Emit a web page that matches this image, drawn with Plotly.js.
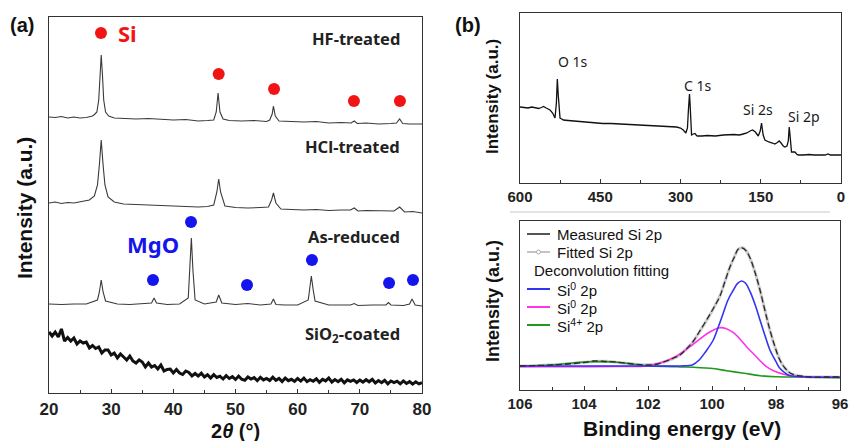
<!DOCTYPE html>
<html>
<head>
<meta charset="utf-8">
<script src="https://cdn.plot.ly/plotly-3.0.1.min.js"></script>
<style>html,body{margin:0;padding:0;background:#fff;}#chart{width:849px;height:441px;}</style>
</head>
<body>
<div id="chart"></div>
<script>
// ---------- Panel (a): XRD patterns (offset intensities, a.u.) ----------
const hfX = [20,21,22,23,24,25,26,26.5,27,27.4,27.7,28.0,28.2,28.4,28.6,28.8,29.1,29.6,30.5,32,34,36,38,40,42,44,45.5,46.5,46.9,47.2,47.5,48.0,49,51,53,55,55.5,55.9,56.1,56.4,57,59,61,63,65,67,68.6,69.1,69.6,71,73,75,75.9,76.4,76.9,78,80];
const hfY = [276,275.5,276.5,275,276,275,275.5,276,277,279,281,293,318,338,318,293,281,277,275,274.5,274,274.5,273.5,273,273.5,272,272.5,273,281,300,281,274,272.5,272,272.5,271.5,273,279,287,277,272,271.5,271,271.5,270,270.5,270,272,269.5,270,269,269.5,270,274,269.5,269,269];

const hclX = [20,21,22,23,24,25,26,26.5,27.3,27.8,28.1,28.4,28.7,29.0,29.5,30.5,32,34,36,38,40,42,44,45.5,46.5,47.0,47.3,47.6,48.3,50,52,54,55.3,55.8,56.1,56.5,57.3,59,61,63,65,67,68.5,69.1,69.7,71,73,75.5,76.4,77.2,78.5,80];
const hclY = [190,191,189.5,190.5,190,191,192,193,197,208,228,253,228,208,196,191,189,188.5,188,187.5,187,186.5,186,186.5,188,201,214,201,187,185.5,185,185.5,186,193,200,190,184,183.5,183,183.5,182.5,183,183,185,182,182.5,182,182,186,181,181.5,180];

const arX = [20,22,24,26,27.8,28.1,28.4,28.7,29.1,31,33,35,36.5,36.9,37.3,39,41,42.4,42.65,42.9,43.15,43.5,45,46.9,47.3,47.8,50,52,54,55.7,56.1,56.5,58,60,61.7,61.95,62.2,62.5,62.8,65,68.5,69.1,69.7,72,74.2,74.6,75.0,77,78.0,78.4,78.9,80];
const arY = [89,88.5,89,89,93,101,113,101,92,89,88.5,89,90,95,90,88.5,89,95,123,155,123,93,89,91,98,90,88.5,89.5,88,89,94,88.5,88,88,93,103,117,103,92,88,88,89.5,87.5,88,88,90.5,88,87.5,89,94,88,87];

const sioX = [20,20.5,21,21.5,22,22.5,23,23.5,24,24.5,25,25.5,26,26.5,27,27.5,28,28.5,29,29.5,30,30.5,31,31.5,32,32.5,33,33.5,34,34.5,35,35.5,36,36.5,37,37.5,38,38.5,39,39.5,40,40.5,41,41.5,42,42.5,43,43.5,44,44.5,45,45.5,46,46.5,47,47.5,48,48.5,49,49.5,50,50.5,51,51.5,52,52.5,53,53.5,54,54.5,55,55.5,56,56.5,57,57.5,58,58.5,59,59.5,60,60.5,61,61.5,62,62.5,63,63.5,64,64.5,65,65.5,66,66.5,67,67.5,68,68.5,69,69.5,70,70.5,71,71.5,72,72.5,73,73.5,74,74.5,75,75.5,76,76.5,77,77.5,78,78.5,79,79.5,80];
const sioY = [61,57,61,56,64,52,55.5,52,55,49,52,50,51,45,47.5,44.5,46,40,43,43,38,40,35,39,36,33,37,32,30,33,31,26,30,26,27.5,24,28,22,23.5,24,20,23.5,20,18.5,22,20.5,17,19.5,17,19.8,16,18.3,15,18.3,15.5,16.8,14,17.3,14.5,16.3,13.5,16.9,13.8,12.7,16.1,14,15.4,12.3,15.7,13.1,14.5,12.4,15.8,12.7,14.6,11.5,14.9,12.3,13.7,11.6,14.5,11.95,14.9,11.35,13.3,11.75,14.2,10.65,13.6,12.05,15,10.95,13.4,11.35,13.8,10.25,13.2,11.65,13.1,10.55,13,10.9,13.3,11.2,13.6,10,12.4,10.3,12.7,9.1,12,10.4,11.8,9.2,12.1,9.5,11.4,8.8,11.2,9.1,10.5];

const siDotX = [28.36,47.3,56.2,69.05,76.45];
const siDotY = [360,319,304,292,292];
const mgoDotX = [42.84,36.73,51.85,62.3,74.7,78.55];
const mgoDotY = [171,113,108,133,110,113];

const xrdTicks = [20,30,40,50,60,70,80];
const sampleNames = ["HF-treated","HCl-treated","As-reduced","SiO<sub>2</sub>-coated"];
const sampleLabelY = [355,247,157,59];

// ---------- Panel (b) top: XPS survey ----------
const surX = [600,592,585,578,570,565,560,556,551,548,543.9,539,536,534.6,532,530.2,528.5,527,525.2,522,518.9,510,500,480,463,445,430,415,400,385,370,355,338.5,320,307.4,300,294.9,290,287,285.3,284,283.2,282,281,279.3,276,273.1,270,268.7,260,250,235,220,200,190,182.7,176,170,165.3,160,156,154.7,151,149.5,148.5,147.3,145.5,142.2,135,128,123.6,119,115.5,112,108,104.9,101,98.5,96.8,95.3,93.5,92.5,89,86.2,83,80,70,60,50,40,30,24,20,10,0];
const surY = [76,75.5,75,76,75,74.5,75.5,76.5,75,74,73,70,67,65,80,104,88,70,65,64,63,62.5,62,61,60,59.5,59.5,59,58.5,58.5,58,57.5,57,56.5,56,55,53,50,55,72,86,89,78,58,48,49,49.5,47.5,47,47,47.5,47,48,48.5,48,49,50,52,53,51,48,47,52,58,60,55,48,43,41,40,39,40.5,42,40,37,36,37,42,56,48,35,31,31,31,29,28,28,28.5,28,28,28,29,28,28,28];
const surTicks = [600,450,300,150,0];
const surPeakNames = ["O 1s","C 1s","Si 2s","Si 2p"];
const surPeakX = [500.9,269,155,70];
const surPeakY = [121,97,73,66];

// ---------- Panel (b) bottom: Si 2p high resolution ----------
const measX = [106,105.5,105,104.5,104,103.7,103.3,103,102.5,102.04,101.7,101.42,101.2,101.0,100.8,100.58,100.4,100.17,99.95,99.75,99.6,99.44,99.3,99.18,99.05,98.93,98.81,98.65,98.5,98.35,98.19,98.03,97.88,97.72,97.56,97.4,97.2,96.94,96.5,96.0];
const measY = [24,24.5,25,26,27.5,29,28.5,28,26,25,26,29,32,35,41,49,58,70,82,94,108,123,133,141,142,139,132,117,100,80,60,43,30,22,17,15,14,13,13,13];
const fitY  = [24,24.3,25.2,26.2,27.7,28.6,28.7,27.8,26.3,25.2,26.4,28.8,31.5,35.2,41.2,48.7,57.8,69.6,81.8,94.3,108.2,122.8,133.2,140.7,142.3,139.3,131.6,117.2,99.6,80.4,59.6,42.8,30.2,21.8,16.8,14.8,13.8,13.1,12.9,12.8];

const blueX = [106,104,102,101.0,100.6,100.4,100.2,99.96,99.8,99.65,99.5,99.33,99.2,99.07,98.95,98.81,98.65,98.5,98.35,98.19,98.0,97.88,97.7,97.56,97.2,96];
const blueY = [24,24,24,24,25.3,30,38.3,50,63.3,76.7,90,100,106.7,109,106.7,98.3,85,70,55,40,28.3,21.7,16.7,14.3,13.3,12.7];
const pinkX = [106,105,104,103,102.04,101.6,101.1,100.58,100.17,99.95,99.75,99.55,99.33,99.1,98.92,98.7,98.5,98.3,98.08,97.67,97.25,96];
const pinkY = [23.3,23.3,23.3,23.5,24,27.3,34,46,56,60,62.3,61.3,57.3,50,43.3,36,29.3,23.3,19.3,15,13.3,12.7];
const greenX = [106,105,104.3,103.7,103.1,102.67,102.04,101.1,100.06,99.54,99.0,98.5,98.0,97,96];
const greenY = [24,25,27.3,28.3,28,26.7,24.3,23.3,21.7,19.3,16.7,14.3,13.3,12.8,12.3];
const hrTicks = [106,104,102,100,98,96];

const legendNames = ["Measured Si 2p","Fitted Si 2p","Deconvolution fitting","Si<sup>0</sup> 2p","Si<sup>0</sup> 2p","Si<sup>4+</sup> 2p"];

// ---------- styling ----------
const W = 849, H = 441;
const px = v => v / W, py = v => 1 - v / H;
const RED = "#f01414", BLUE = "#1414ec";
const C_BLUE = "#3434f4", C_PINK = "#ff33ea", C_GREEN = "#1f9a1f";
const tickFont = s => ({family: "Liberation Sans, Arial, sans-serif", size: s, color: "#222", weight: "bold"});

const traces = [
  {x: hfX, y: hfY, xaxis: "x", yaxis: "y", mode: "lines", line: {color: "#3a3a3a", width: 1.1}},
  {x: hclX, y: hclY, xaxis: "x", yaxis: "y", mode: "lines", line: {color: "#3a3a3a", width: 1.1}},
  {x: arX, y: arY, xaxis: "x", yaxis: "y", mode: "lines", line: {color: "#3a3a3a", width: 1.1}},
  {x: sioX, y: sioY, xaxis: "x", yaxis: "y", mode: "lines", line: {color: "#111", width: 3}},
  {x: siDotX, y: siDotY, xaxis: "x", yaxis: "y", mode: "markers", marker: {color: RED, size: 12}},
  {x: mgoDotX, y: mgoDotY, xaxis: "x", yaxis: "y", mode: "markers", marker: {color: BLUE, size: 12}},
  {x: surX, y: surY, xaxis: "x2", yaxis: "y2", mode: "lines", line: {color: "#111", width: 1.3}},
  {x: measX, y: fitY, xaxis: "x3", yaxis: "y3", mode: "lines", line: {color: "#cdcdcd", width: 3, shape: "spline"}},
  {x: greenX, y: greenY, xaxis: "x3", yaxis: "y3", mode: "lines", line: {color: C_GREEN, width: 1.6, shape: "spline"}},
  {x: pinkX, y: pinkY, xaxis: "x3", yaxis: "y3", mode: "lines", line: {color: C_PINK, width: 1.6, shape: "spline"}},
  {x: blueX, y: blueY, xaxis: "x3", yaxis: "y3", mode: "lines", line: {color: C_BLUE, width: 1.6, shape: "spline"}},
  {x: measX, y: measY, xaxis: "x3", yaxis: "y3", mode: "lines", line: {color: "#2a2a2a", width: 1.3, dash: "6px,3px", shape: "spline"}}
];
traces.forEach(t => { t.showlegend = false; t.hoverinfo = "skip"; });

const axBase = {showline: true, mirror: true, linecolor: "#333", linewidth: 1.3, showgrid: false, zeroline: false, fixedrange: true, automargin: false};
const ann = [];
const A = (o) => { ann.push(Object.assign({showarrow: false, xanchor: "center", yanchor: "middle", xref: "paper", yref: "paper"}, o)); };
const bold = (s) => ({family: "Liberation Sans, Arial, sans-serif", size: s, weight: "bold", color: "#111"});
// panel letters
A({text: "(a)", x: px(22), y: py(25), font: bold(20)});
A({text: "(b)", x: px(468), y: py(25), font: bold(20)});
// axis titles
A({text: "Intensity (a.u.)", x: px(24), y: py(208), textangle: -90, font: bold(21)});
A({text: "2<i>θ</i> (°)", x: px(236), y: py(431), font: bold(20)});
A({text: "Intensity (a.u.)", x: px(493), y: py(97), textangle: -90, font: bold(17)});
A({text: "Intensity (a.u.)", x: px(493), y: py(301), textangle: -90, font: bold(18)});
A({text: "Binding energy (eV)", x: px(682), y: py(428), font: bold(21)});
// sample names
sampleNames.forEach((s, i) => A({text: s, x: 76.8, y: sampleLabelY[i], xref: "x", yref: "y", xanchor: "right", font: {family: "Noto Sans, sans-serif", size: 16.5, weight: "bold", color: "#222"}}));
A({text: "Si", x: 30.8, y: 360, xref: "x", yref: "y", xanchor: "left", font: {family: "Noto Sans, sans-serif", size: 22, weight: "bold", color: RED}});
A({text: "MgO", x: 36.7, y: 149, xref: "x", yref: "y", font: {family: "Noto Sans, sans-serif", size: 22, weight: "bold", color: BLUE}});
// survey peak names
surPeakNames.forEach((s, i) => A({text: s, x: surPeakX[i], y: surPeakY[i], xref: "x2", yref: "y2", font: {family: "Noto Sans, sans-serif", size: 14, color: "#1a1a1a"}}));
// manual legend in panel (b) bottom
const legRowsY = [234, 252, 270, 289, 307, 325];
const legColors = ["#555", "#c4c4c4", null, C_BLUE, C_PINK, C_GREEN];
const shapes = [];
legendNames.forEach((s, i) => {
  const yy = legRowsY[i];
  const f = {family: "Liberation Sans, Arial, sans-serif", size: 15, color: "#111"};
  if (legColors[i]) {
    shapes.push({type: "line", xref: "paper", yref: "paper", x0: px(527), x1: px(550), y0: py(yy), y1: py(yy), line: {color: legColors[i], width: 2}});
    A({text: s, x: px(555), y: py(yy), xanchor: "left", font: f});
  } else {
    A({text: s, x: px(532), y: py(yy), xanchor: "left", font: f});
  }
});
shapes.push({type: "circle", xref: "paper", yref: "paper", x0: px(536.5), x1: px(540.5), y0: py(250), y1: py(254), line: {color: "#aaa", width: 1}, fillcolor: "#fff"});
// faint separator line beneath survey tick labels
shapes.push({type: "line", xref: "paper", yref: "paper", x0: px(510), x1: px(830), y0: py(212), y1: py(212), line: {color: "#c8c8c8", width: 1}});

const layout = {
  width: W, height: H, margin: {l: 0, r: 0, t: 0, b: 0}, paper_bgcolor: "#fff", plot_bgcolor: "#fff", showlegend: false,
  xaxis: Object.assign({}, axBase, {domain: [px(49), px(422)], range: [20, 80], anchor: "y", tickmode: "array", tickvals: xrdTicks, ticks: "inside", ticklen: 4, tickcolor: "#333", minor: {ticks: "inside", ticklen: 3, dtick: 5, tickcolor: "#333"}, tickfont: tickFont(17)}),
  yaxis: Object.assign({}, axBase, {domain: [py(393), py(17)], range: [0, 376], anchor: "x", showticklabels: false, ticks: ""}),
  xaxis2: Object.assign({}, axBase, {domain: [px(520), px(841)], range: [600, 0], anchor: "y2", tickmode: "array", tickvals: surTicks, ticks: "inside", ticklen: 4, tickcolor: "#333", minor: {ticks: "inside", ticklen: 3, dtick: 75, tickcolor: "#333"}, tickfont: tickFont(15)}),
  yaxis2: Object.assign({}, axBase, {domain: [py(183), py(13)], range: [0, 170], anchor: "x2", showticklabels: false, ticks: ""}),
  xaxis3: Object.assign({}, axBase, {domain: [px(520), px(840)], range: [106, 96], anchor: "y3", tickmode: "array", tickvals: hrTicks, ticks: "inside", ticklen: 4, tickcolor: "#333", minor: {ticks: "inside", ticklen: 3, dtick: 1, tickcolor: "#333"}, tickfont: tickFont(15)}),
  yaxis3: Object.assign({}, axBase, {domain: [py(390), py(221)], range: [0, 169], anchor: "x3", showticklabels: false, ticks: ""}),
  annotations: ann, shapes: shapes
};
Plotly.newPlot("chart", traces, layout, {staticPlot: true, displayModeBar: false});
</script>
</body>
</html>
